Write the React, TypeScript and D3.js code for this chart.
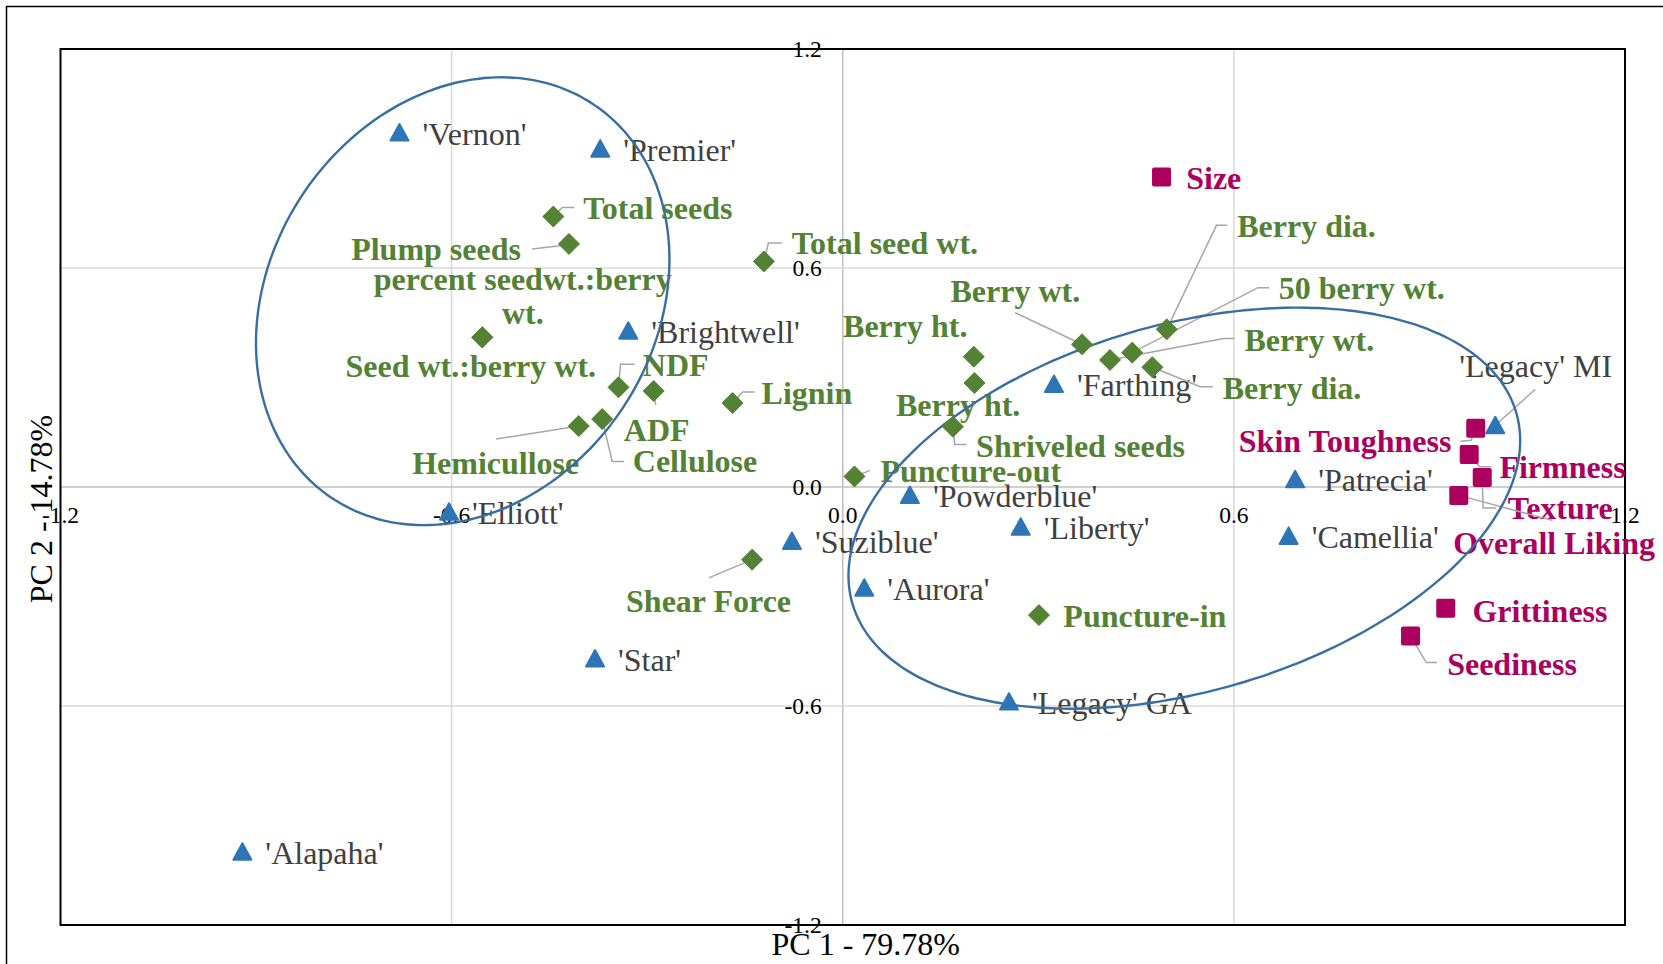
import React from 'react';
import * as d3 from 'd3';

const W = 1663;
const H = 964;

// ---- Cultivars (blue triangles) ----
const cultivarNames = ["'Vernon'", "'Premier'", "'Brightwell'", "'Elliott'", "'Alapaha'", "'Star'", "'Suziblue'", "'Aurora'", "'Powderblue'", "'Liberty'", "'Farthing'", "'Legacy' GA", "'Patrecia'", "'Camellia'", "'Legacy' MI"];
const cultivarPC1 = [-0.680, -0.372, -0.329, -0.604, -0.921, -0.380, -0.078, 0.033, 0.103, 0.273, 0.324, 0.255, 0.694, 0.684, 1.001];
const cultivarPC2 = [0.971, 0.927, 0.428, -0.068, -0.999, -0.470, -0.148, -0.276, -0.022, -0.109, 0.282, -0.588, 0.021, -0.134, 0.169];

// ---- Physical / chemical attributes (green diamonds) ----
const physNames = ["Total seeds", "Plump seeds", "percent seedwt.:berry wt.", "Seed wt.:berry wt.", "NDF", "ADF", "Cellulose", "Hemicullose", "Lignin", "Total seed wt.", "Shear Force", "Puncture-out", "Puncture-in", "Berry ht.", "Berry ht.", "Shriveled seeds", "Berry wt.", "50 berry wt.", "Berry wt.", "Berry dia.", "Berry dia."];
const physPC1 = [-0.444, -0.420, -0.553, -0.553, -0.344, -0.290, -0.369, -0.405, -0.169, -0.121, -0.139, 0.018, 0.301, 0.201, 0.202, 0.169, 0.367, 0.444, 0.410, 0.497, 0.475];
const physPC2 = [0.741, 0.666, 0.410, 0.410, 0.273, 0.263, 0.186, 0.167, 0.230, 0.618, -0.199, 0.029, -0.351, 0.357, 0.285, 0.165, 0.391, 0.368, 0.348, 0.432, 0.328];

// ---- Sensory attributes (magenta squares) ----
const sensNames = ["Size", "Skin Toughness", "Firmness", "Texture", "Overall Liking", "Grittiness", "Seediness"];
const sensPC1 = [0.489, 0.971, 0.961, 0.981, 0.945, 0.925, 0.871];
const sensPC2 = [0.849, 0.161, 0.089, 0.026, -0.023, -0.332, -0.408];

// ---- Axes ----
const axisMin = -1.2;
const axisMax = 1.2;
const gridValues = [-0.6, 0, 0.6];
const tickValues = [-1.2, -0.6, 0, 0.6, 1.2];
const xTitle = 'PC 1 - 79.78%';
const yTitle = 'PC 2 - 14.78%';

// ---- Group ellipses (centre + two semi-diameter vectors, in PC units) ----
const ellipseCentres = [[-0.583, 0.509], [0.524, -0.058]];
const ellipseMajor = [[0.1996, 0.5405], [0.5093, 0.2608]];
const ellipseMinor = [[0.2464, -0.2901], [0.0776, -0.4836]];

// ---- Label layout (pixel offsets from the marker) ----
type Lay = { dx: number; dy: number; anchor: string; leader?: number[][]; lines?: string[]; gap?: number };
const cultivarLayout: Lay[] = cultivarNames.map((n) =>
  n === "'Legacy' MI"
    ? { dx: 40.4, dy: -59, anchor: 'middle', leader: [[0, 0], [40, -36]] }
    : { dx: 23, dy: 1.5, anchor: 'start' }
);
const physLayout: Lay[] = [
  { dx: 30, dy: -8.5, anchor: 'start', leader: [[0, 0], [9, -9], [21, -9]] },
  { dx: -48, dy: 6, anchor: 'end', leader: [[-37, 5], [-11, 2], [0, 0]] },
  { dx: 40.5, dy: -58, anchor: 'middle', lines: ['percent seedwt.:berry', 'wt.'], gap: 34 },
  { dx: -11.5, dy: 29.5, anchor: 'middle' },
  { dx: 24.3, dy: -22.3, anchor: 'start', leader: [[0, 0], [2, -23], [16, -23]] },
  { dx: 3, dy: 39, anchor: 'middle', leader: [[0, 0], [2, 14]] },
  { dx: 30.6, dy: 42.7, anchor: 'start', leader: [[0, 0], [10, 42.4], [22, 42.4]] },
  { dx: -83, dy: 37.3, anchor: 'middle', leader: [[-82.6, 13], [0, 0]] },
  { dx: 29, dy: -10, anchor: 'start', leader: [[0, 0], [10, -11], [22, -11]] },
  { dx: 27.8, dy: -18.3, anchor: 'start', leader: [[0, 0], [4.6, -18.4], [18, -18.4]] },
  { dx: -43.6, dy: 42.2, anchor: 'middle', leader: [[-43.4, 18.2], [0, 0]] },
  { dx: 26, dy: -4.5, anchor: 'start', leader: [[0, 0], [15.4, -5.8]] },
  { dx: 24.4, dy: 1, anchor: 'start' },
  { dx: -68.5, dy: -30, anchor: 'middle' },
  { dx: -16.3, dy: 22.6, anchor: 'middle' },
  { dx: 23.2, dy: 19.9, anchor: 'start', leader: [[0, 0], [1.8, 17.8], [13.6, 17.8]] },
  { dx: -66.7, dy: -52.6, anchor: 'middle', leader: [[-66.9, -31.6], [0, 0]] },
  { dx: 146.5, dy: -64.5, anchor: 'start', leader: [[0, 0], [125.8, -65], [137, -65]] },
  { dx: 134.5, dy: -19.5, anchor: 'start', leader: [[0, 0], [113.5, -21.5], [124.3, -21.5]] },
  { dx: 70.5, dy: -103, anchor: 'start', leader: [[0, 0], [49.7, -104], [60.5, -104]] },
  { dx: 70.3, dy: 21.4, anchor: 'start', leader: [[0, 0], [47.9, 19.5], [60.4, 19.5]] },
];
const sensLayout: Lay[] = [
  { dx: 24.7, dy: 1.3, anchor: 'start' },
  { dx: -24.3, dy: 13.5, anchor: 'end', leader: [[0, 0], [-4.6, 12], [-15.3, 13]] },
  { dx: 30.2, dy: 13, anchor: 'start', leader: [[0, 0], [10.4, 12.3], [21.9, 12.3]] },
  { dx: 25.5, dy: 31, anchor: 'start', leader: [[0, 0], [0.8, 30.5], [14, 30.5]] },
  { dx: -5.6, dy: 48, anchor: 'start', leader: [[0, 0], [93.5, 25]] },
  { dx: 26.7, dy: 3.5, anchor: 'start' },
  { dx: 36.6, dy: 29, anchor: 'start', leader: [[0, 0], [15.7, 26.7], [26.5, 26.7]] },
];

const FONT = "'Liberation Serif', 'Times New Roman', serif";
const BLUE = '#2E75B6';
const GREEN = '#548235';
const PINK = '#AC005E';
const GREY_TEXT = '#404040';
const LEADER = '#A6A6A6';
const GRID = '#D9D9D9';
const ELLIPSE = '#3A6EA0';

const x = d3.scaleLinear().domain([axisMin, axisMax]).range([60.5, 1625]);
const y = d3.scaleLinear().domain([axisMin, axisMax]).range([925, 49]);

const fmt = (v: number) => v.toFixed(1);

function Label({ px, py, text, lay, color, bold }: { px: number; py: number; text: string; lay: Lay; color: string; bold: boolean }) {
  const lineGen = d3.line<number[]>().x((p) => px + p[0]).y((p) => py + p[1]);
  const lines = lay.lines || [text];
  const gap = lay.gap || 34;
  return (
    <g>
      {lay.leader && <path d={lineGen(lay.leader) || ''} fill="none" stroke={LEADER} strokeWidth={1.5} />}
      <text
        x={px + lay.dx}
        y={py + lay.dy}
        textAnchor={lay.anchor}
        fill={color}
        fontFamily={FONT}
        fontSize={32}
        fontWeight={bold ? 'bold' : 'normal'}
      >
        {lines.map((l, i) => (
          <tspan key={i} x={px + lay.dx} dy={i === 0 ? '0.33em' : gap}>{l}</tspan>
        ))}
      </text>
    </g>
  );
}

export default function App() {
  const ellipsePath = (k: number) => {
    const c = ellipseCentres[k];
    const a = ellipseMajor[k];
    const b = ellipseMinor[k];
    const pts = d3.range(0, 360, 2).map((deg) => {
      const t = (deg * Math.PI) / 180;
      return [c[0] + a[0] * Math.cos(t) + b[0] * Math.sin(t), c[1] + a[1] * Math.cos(t) + b[1] * Math.sin(t)];
    });
    return d3.line<number[]>().x((p) => x(p[0])).y((p) => y(p[1])).curve(d3.curveCardinalClosed)(pts) || '';
  };

  const x0 = x(0);
  const y0 = y(0);
  const tri = 'M0,-8.5L9,8L-9,8Z';
  const dia = 'M0,-10.5L10.5,0L0,10.5L-10.5,0Z';

  return (
    <div style={{ position: 'absolute', left: 0, top: 0 }}>
      <svg width={W} height={H} style={{ display: 'block', background: '#fff' }}>
        <rect x={0} y={0} width={W} height={H} fill="#fff" />
        <rect x={6.5} y={6.5} width={W + 20} height={H + 20} fill="none" stroke="#000" strokeWidth={1.5} />

        {/* gridlines */}
        {gridValues.map((v) => (
          <line key={'gx' + v} x1={x(v)} x2={x(v)} y1={y(axisMax)} y2={y(axisMin)} stroke={v === 0 ? '#BFBFBF' : GRID} strokeWidth={1.5} />
        ))}
        {gridValues.map((v) => (
          <line key={'gy' + v} y1={y(v)} y2={y(v)} x1={x(axisMin)} x2={x(axisMax)} stroke={v === 0 ? '#BFBFBF' : GRID} strokeWidth={1.5} />
        ))}

        {/* tick labels */}
        {tickValues.map((v) => (
          <text key={'tx' + v} x={x(v)} y={y0 + 28} dy="0.33em" textAnchor="middle" fontFamily={FONT} fontSize={23.5} fill="#000">
            {fmt(v)}
          </text>
        ))}
        {tickValues.map((v) => (
          <text key={'ty' + v} x={x0 - 21} y={y(v)} dy="0.33em" textAnchor="end" fontFamily={FONT} fontSize={23.5} fill="#000">
            {fmt(v)}
          </text>
        ))}

        {/* plot frame */}
        <rect x={x(axisMin)} y={y(axisMax)} width={x(axisMax) - x(axisMin)} height={y(axisMin) - y(axisMax)} fill="none" stroke="#000" strokeWidth={2} />

        {/* axis titles */}
        <text x={x0 + 23} y={955} textAnchor="middle" fontFamily={FONT} fontSize={32} fill="#000">{xTitle}</text>
        <text transform={`translate(51.5, ${y0 + 22}) rotate(-90)`} textAnchor="middle" fontFamily={FONT} fontSize={32} fill="#000">{yTitle}</text>

        {/* labels */}
        {cultivarNames.map((n, i) => (
          <Label key={'cl' + i} px={x(cultivarPC1[i])} py={y(cultivarPC2[i])} text={n} lay={cultivarLayout[i]} color={GREY_TEXT} bold={false} />
        ))}
        {physNames.map((n, i) => (
          <Label key={'pl' + i} px={x(physPC1[i])} py={y(physPC2[i])} text={n} lay={physLayout[i]} color={GREEN} bold={true} />
        ))}
        {sensNames.map((n, i) => (
          <Label key={'sl' + i} px={x(sensPC1[i])} py={y(sensPC2[i])} text={n} lay={sensLayout[i]} color={PINK} bold={true} />
        ))}

        {/* ellipses */}
        {ellipseCentres.map((_, k) => (
          <path key={'el' + k} d={ellipsePath(k)} fill="none" stroke={ELLIPSE} strokeWidth={2.4} />
        ))}

        {/* markers */}
        {physNames.map((n, i) => (
          <path key={'pm' + i} d={dia} transform={`translate(${x(physPC1[i])},${y(physPC2[i])})`} fill={GREEN} stroke={GREEN} strokeWidth={1} strokeLinejoin="round" />
        ))}
        {sensNames.map((n, i) => (
          <rect key={'sm' + i} x={x(sensPC1[i]) - 9.5} y={y(sensPC2[i]) - 9.5} width={19} height={19} rx={2} fill={PINK} />
        ))}
        {cultivarNames.map((n, i) => (
          <path key={'cm' + i} d={tri} transform={`translate(${x(cultivarPC1[i])},${y(cultivarPC2[i])})`} fill={BLUE} stroke={BLUE} strokeWidth={2} strokeLinejoin="round" />
        ))}
      </svg>
    </div>
  );
}
